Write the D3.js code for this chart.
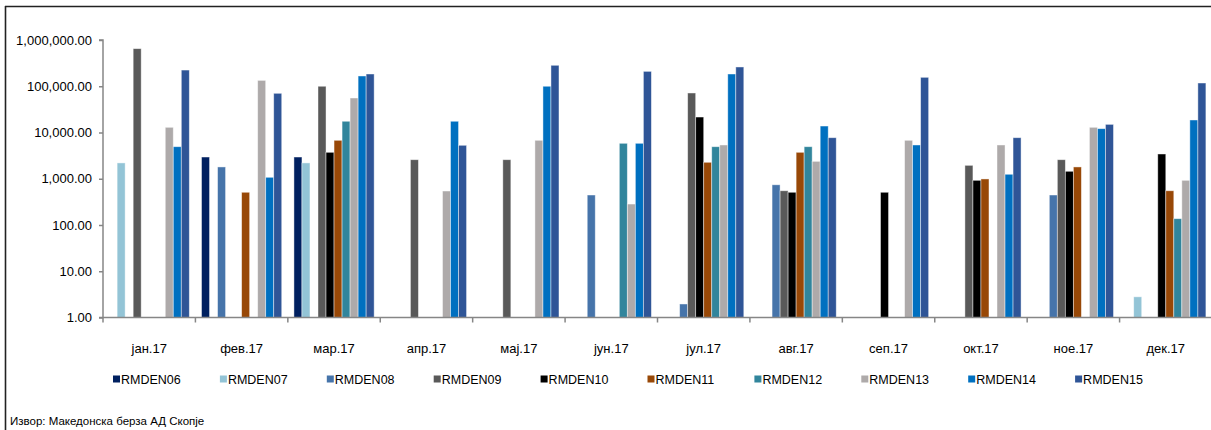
<!DOCTYPE html>
<html>
<head>
<meta charset="utf-8">
<script src="https://cdn.jsdelivr.net/npm/d3@7/dist/d3.min.js"></script>
<style>
  html, body { margin: 0; padding: 0; background: #fff; }
  svg { display: block; font-family: "Liberation Sans", Arial, sans-serif; }
</style>
</head>
<body>
<svg id="chart" width="1211" height="430"></svg>
<script>
const months = ["јан.17","фев.17","мар.17","апр.17","мај.17","јун.17","јул.17","авг.17","сеп.17","окт.17","ное.17","дек.17"];
const seriesNames = ["RMDEN06","RMDEN07","RMDEN08","RMDEN09","RMDEN10","RMDEN11","RMDEN12","RMDEN13","RMDEN14","RMDEN15"];
const colors = ["#002060","#93C4D6","#4674AA","#595959","#000000","#984807","#31859C","#AEAAAA","#0070C0","#2F5597"];
const yTicks = [1, 10, 100, 1000, 10000, 100000, 1000000];

// values per series, one per month (null = no bar)
const RMDEN06 = [null, 2950, 2950, null, null, null, null, null, null, null, null, null];
const RMDEN07 = [2200, null, 2200, null, null, null, null, null, null, null, null, 2.8];
const RMDEN08 = [null, 1800, null, null, null, 445, 1.96, 740, null, null, 445, null];
const RMDEN09 = [650000, null, 100000, 2580, 2580, null, 71500, 550, null, 1950, 2580, null];
const RMDEN10 = [null, null, 3730, null, null, null, 21600, 510, 510, 925, 1450, 3430];
const RMDEN11 = [null, 510, 6780, null, null, null, 2270, 3730, null, 990, 1800, 550];
const RMDEN12 = [null, null, 17500, null, null, 5840, 4930, 4930, null, null, null, 137];
const RMDEN13 = [12950, 134000, 55700, 543, 6780, 284, 5370, 2380, 6780, 5370, 12950, 925];
const RMDEN14 = [4930, 1075, 166700, 17500, 100000, 5840, 184000, 13800, 5370, 1250, 12100, 18640];
const RMDEN15 = [224000, 70400, 184000, 5290, 284000, 210000, 261000, 7720, 156000, 7720, 15000, 117500];

const seriesValues = [RMDEN06, RMDEN07, RMDEN08, RMDEN09, RMDEN10, RMDEN11, RMDEN12, RMDEN13, RMDEN14, RMDEN15];

(function () {
const svg = d3.select("#chart");
const mLeft = 103, mRight = 1212, mTop = 40, mBottom = 317.5;
const axisColor = "#868686";

// frame
svg.append("line").attr("x1", 5).attr("x2", 1211).attr("y1", 6.5).attr("y2", 6.5)
  .attr("stroke", "#222").attr("stroke-width", 1.6);
svg.append("line").attr("x1", 5.5).attr("x2", 5.5).attr("y1", 6).attr("y2", 430)
  .attr("stroke", "#222").attr("stroke-width", 1.6);

const x0 = d3.scaleBand().domain(months).range([mLeft, mRight]).padding(0);
const bw = x0.bandwidth();
const x1 = d3.scaleBand().domain(seriesNames).range([bw * 0.066, bw * 0.934]).padding(0);
const y = d3.scaleLog().domain([1, 1000000]).range([mBottom, mTop]);

// bars
const data = [];
seriesNames.forEach((s, si) => {
  seriesValues[si].forEach((v, mi) => {
    if (v != null) data.push({ s, si, m: months[mi], v });
  });
});
svg.append("g").selectAll("rect").data(data).join("rect")
  .attr("x", d => x0(d.m) + x1(d.s))
  .attr("width", x1.bandwidth())
  .attr("y", d => y(d.v))
  .attr("height", d => y(1) - y(d.v))
  .attr("fill", d => colors[d.si])
  .attr("stroke", "rgba(255,255,255,0.55)")
  .attr("stroke-width", 0.8);

// y axis
const yAxis = d3.axisLeft(y).tickValues(yTicks).tickSize(4).tickPadding(7)
  .tickFormat(d => d3.format(",.2f")(d));
const gy = svg.append("g").attr("transform", `translate(${mLeft},0)`).call(yAxis);
gy.select(".domain").attr("stroke", axisColor).attr("stroke-width", 1.5).attr("d", `M-4,${mTop}H0V${mBottom}H-4`);
gy.selectAll(".tick line").attr("stroke", axisColor).attr("stroke-width", 1.5);
gy.selectAll(".tick text").attr("fill", "#000").attr("font-size", 13)
  .attr("font-family", "Liberation Sans, Arial, sans-serif");

// x axis
const gx = svg.append("g").attr("transform", `translate(0,${mBottom})`);
gx.append("line").attr("x1", mLeft).attr("x2", mRight).attr("y1", 0).attr("y2", 0)
  .attr("stroke", axisColor).attr("stroke-width", 1.5);
gx.selectAll("line.tk").data(months).join("line").attr("class", "tk")
  .attr("x1", d => x0(d)).attr("x2", d => x0(d))
  .attr("y1", 0).attr("y2", 5).attr("stroke", axisColor).attr("stroke-width", 1.5);
gx.selectAll("text").data(months).join("text")
  .attr("x", d => x0(d) + bw / 2).attr("y", 35.5)
  .attr("text-anchor", "middle").attr("font-size", 13).attr("fill", "#000")
  .text(d => d);

// legend
const lg = svg.append("g").attr("transform", "translate(113,379)");
seriesNames.forEach((s, i) => {
  const g = lg.append("g").attr("transform", `translate(${i * 106.9},0)`);
  g.append("rect").attr("x", 0).attr("y", -3.5).attr("width", 7).attr("height", 7).attr("fill", colors[i]);
  g.append("text").attr("x", 8).attr("y", 4.8).attr("font-size", 12.5).attr("fill", "#000").text(s);
});

// source
svg.append("text").attr("x", 10).attr("y", 425).attr("font-size", 11.5).attr("fill", "#000")
  .text("Извор: Македонска берза АД Скопје");
})();
</script>
</body>
</html>
